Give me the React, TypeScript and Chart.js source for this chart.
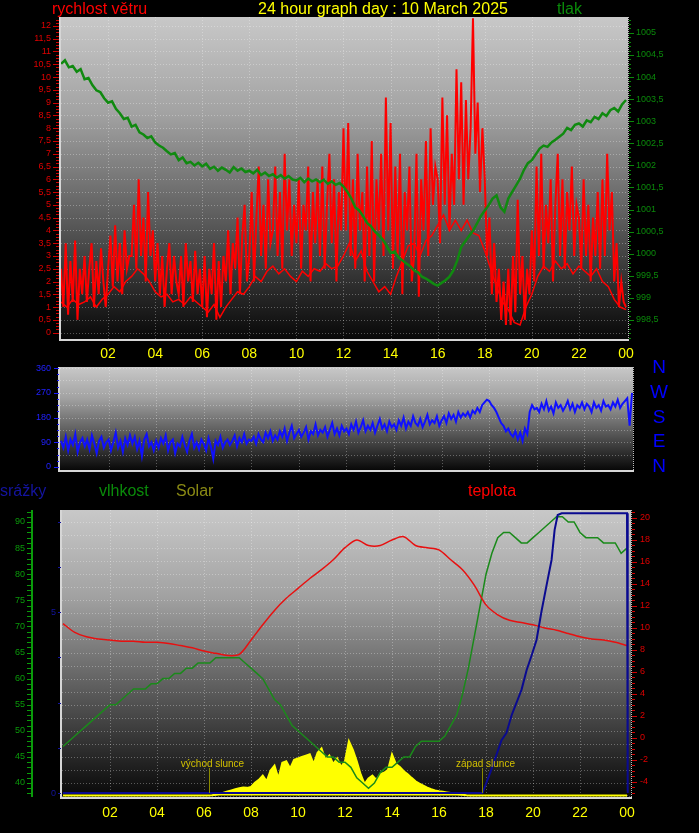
import React, { useEffect, useRef } from 'react';
import { Chart, registerables } from 'chart.js';
Chart.register(...registerables);

const FONT = 'Arial, "Liberation Sans", sans-serif';

// x-axis hour labels
const tickHours = [2, 4, 6, 8, 10, 12, 14, 16, 18, 20, 22, 24];
const tickLabels = ['02', '04', '06', '08', '10', '12', '14', '16', '18', '20', '22', '00'];

// wind gust, m/s, every 6 minutes
const windGust = [
  2.5, 1.0, 3.5, 0.7, 2.8, 1.2, 3.6, 0.5, 2.5, 1.5,
  3.0, 1.2, 2.5, 3.5, 1.0, 2.8, 1.5, 3.3, 2.0, 1.0,
  2.5, 3.8, 1.8, 4.2, 2.0, 3.5, 1.5, 4.0, 2.5, 3.0,
  3.0, 5.0, 2.5, 6.0, 3.0, 4.5, 2.0, 5.5, 3.0, 4.0,
  2.0, 3.5, 1.5, 3.0, 1.0, 2.5, 3.5, 1.5, 3.0, 2.0,
  1.5, 3.0, 1.0, 3.5, 2.0, 2.8, 1.2, 3.2, 1.5, 2.5,
  1.0, 3.0, 0.6, 2.5, 1.5, 3.5, 0.5, 2.8, 1.0, 3.0,
  2.0, 4.0, 1.5, 3.5, 2.5, 4.5, 1.5, 3.8, 5.0, 2.0,
  3.0, 5.5, 2.0, 4.5, 6.5, 3.0, 5.0, 2.5, 6.0, 3.5,
  4.0, 6.5, 3.0, 5.5, 2.5, 7.0, 4.0, 6.0, 3.0, 5.0,
  3.5, 6.0, 2.5, 5.0, 4.0, 6.5, 2.0, 5.5, 3.5, 6.0,
  3.0, 6.5, 2.5, 5.0, 7.0, 3.5, 6.0, 2.0, 5.5, 4.0,
  8.0, 4.0, 8.2, 3.0, 6.0, 2.5, 7.0, 4.0, 5.5, 2.0,
  6.5, 3.0, 7.5, 2.0, 6.0, 4.0, 7.0, 3.0, 9.2, 4.0,
  8.2, 2.5, 6.5, 3.0, 7.0, 1.5, 5.5, 4.0, 6.5, 2.0,
  3.0, 7.0, 1.4, 6.0, 4.0, 7.5, 3.0, 8.0, 5.0, 6.5,
  6.0, 3.5, 9.2, 5.0, 8.5, 4.0, 7.0, 5.0, 10.3, 6.0,
  9.8, 5.0, 9.1, 6.0, 8.0, 12.3, 7.0, 9.0, 5.5, 8.0,
  6.0, 3.0, 4.5, 1.5, 3.5, 1.2, 2.5, 0.5, 2.0, 0.3,
  2.5, 0.3, 3.0, 0.8, 5.2, 1.5, 3.0, 0.5, 2.5, 1.5,
  4.0, 2.0, 6.5, 3.0, 7.0, 2.5, 5.0, 3.5, 6.0, 2.0,
  5.0, 7.0, 3.0, 6.0, 2.5, 5.5, 4.0, 6.5, 3.0, 5.0,
  4.5, 2.5, 6.0, 3.0, 5.0, 2.0, 4.5, 3.0, 5.5, 2.5,
  6.0, 3.0, 7.0, 4.0, 5.5, 2.0, 3.5, 1.0, 2.0, 1.2,
  1.0,
];

// average wind speed, m/s, every 15 minutes
const windAvg = [
  1.2, 1.0, 1.3, 1.1, 1.2, 1.4, 1.0, 1.3, 1.5, 1.8, 1.6, 2.0,
  2.2, 2.5, 2.3, 2.0, 1.6, 1.4, 1.5, 1.2, 1.3, 1.1, 1.4, 1.2,
  1.0, 0.8, 1.1, 0.6, 1.0, 1.3, 1.6, 1.5, 1.8, 2.2, 2.0, 2.4,
  2.6, 2.3, 2.5, 2.2, 2.0, 2.4, 2.2, 2.5, 2.4, 2.7, 2.5, 2.6,
  3.0, 3.5, 2.8, 3.2, 2.4, 2.0, 1.6, 1.8, 1.5, 2.2, 2.8, 3.4,
  3.5, 3.0, 3.6, 3.8, 4.2, 4.6, 4.0, 4.4, 4.0, 4.4, 3.9, 3.8,
  3.2, 2.5, 1.8, 1.2, 0.9, 0.4, 0.3, 1.0, 1.5, 2.2, 2.6, 2.4,
  2.8, 2.5, 2.7, 2.3, 2.6, 2.4, 2.2, 2.5, 2.0, 1.8, 1.3, 1.0,
  0.9,
];

// pressure, hPa, every 10 minutes
const pressure = [
  1004.30, 1004.38, 1004.22, 1004.25, 1004.12, 1004.18,
  1003.95, 1003.98, 1003.82, 1003.70, 1003.66, 1003.52,
  1003.42, 1003.45, 1003.28, 1003.18, 1003.05, 1003.08,
  1002.88, 1002.92, 1002.75, 1002.70, 1002.62, 1002.66,
  1002.52, 1002.45, 1002.40, 1002.32, 1002.25, 1002.28,
  1002.12, 1002.18, 1002.05, 1002.08, 1002.00, 1002.06,
  1001.98, 1002.04, 1001.92, 1001.97, 1001.88, 1001.95,
  1001.90, 1001.84, 1001.96, 1001.88, 1001.93, 1001.85,
  1001.88, 1001.82, 1001.90, 1001.78, 1001.84, 1001.76,
  1001.80, 1001.72, 1001.78, 1001.70, 1001.76, 1001.68,
  1001.66, 1001.72, 1001.62, 1001.70, 1001.64, 1001.68,
  1001.62, 1001.68, 1001.58, 1001.64, 1001.56, 1001.60,
  1001.52, 1001.40, 1001.25, 1001.05, 1000.98, 1000.85,
  1000.70, 1000.62, 1000.50, 1000.42, 1000.32, 1000.18,
  1000.02, 1000.05, 999.92, 999.85, 999.78, 999.72,
  999.62, 999.58, 999.48, 999.44, 999.38, 999.32,
  999.28, 999.34, 999.40, 999.48, 999.62, 999.85,
  1000.15, 1000.28, 1000.40, 1000.52, 1000.68, 1000.85,
  1000.98, 1001.10, 1001.25, 1001.32, 1001.05, 1000.95,
  1001.25, 1001.40, 1001.55, 1001.70, 1001.90, 1002.05,
  1002.12, 1002.25, 1002.38, 1002.45, 1002.42, 1002.52,
  1002.58, 1002.65, 1002.72, 1002.85, 1002.80, 1002.92,
  1002.95, 1002.88, 1003.02, 1002.98, 1003.10, 1003.05,
  1003.18, 1003.12, 1003.25, 1003.30, 1003.22, 1003.38,
  1003.48,
];

// wind direction, degrees, every 6 minutes
const windDir = [
  95, 70, 110, 60, 100, 80, 120, 55, 90, 105,
  75, 100, 65, 115, 85, 50, 95, 110, 70, 90,
  100, 60, 90, 125, 70, 95, 55, 105, 80, 115,
  85, 110, 65, 95, 40, 100, 120, 75, 90, 60,
  95, 70, 105, 85, 115, 60, 90, 100, 50, 85,
  75, 110, 80, 55, 95, 120, 70, 90, 65, 100,
  85, 60, 105, 75, 30, 95, 80, 110, 70, 90,
  100, 80, 95, 115, 75, 105, 90, 120, 85, 100,
  95, 110, 85, 120, 100, 90, 125, 105, 130, 95,
  115, 100, 130, 110, 140, 95, 125, 150, 105, 120,
  135, 110, 125, 145, 100, 130, 120, 155, 115, 135,
  125, 145, 110, 135, 160, 120, 140, 115, 150, 130,
  140, 120, 155, 135, 165, 125, 145, 170, 130, 150,
  135, 160, 125, 150, 175, 140, 155, 130, 165, 145,
  155, 135, 170, 150, 180, 140, 165, 150, 185, 160,
  150, 175, 145, 165, 190, 155, 170, 160, 185, 150,
  170, 185, 160, 195, 175, 190, 165, 200, 180, 195,
  185, 200, 180, 205, 195, 215, 200, 225, 235, 245,
  240, 225, 215, 200, 180, 160, 150, 130, 140, 120,
  110, 130, 100, 125, 95, 140, 120, 200, 225, 210,
  215, 200, 230, 210, 240, 205, 220, 195, 235, 215,
  225, 205, 220, 240, 210, 230, 200, 225, 215, 235,
  210, 230, 220, 200, 235, 215, 225, 205, 240, 220,
  225, 210, 235, 220, 245, 215, 230, 240, 250, 150,
  270,
];

// temperature, °C, every 30 minutes
const temperature = [
  10.4, 9.6, 9.2, 9.0, 8.9, 8.8, 8.8, 8.7, 8.7, 8.6, 8.4, 8.2, 7.9, 7.7, 7.5, 7.6, 8.9,
  10.3, 11.6, 12.7, 13.6, 14.5, 15.3, 16.2, 17.3, 18.0, 17.5, 17.5, 18.0, 18.3, 17.5, 17.3, 17.1,
  16.2, 15.3, 13.9, 12.1, 11.2, 10.7, 10.5, 10.3, 10.0, 9.8, 9.5, 9.2, 9.0, 8.9, 8.7, 8.4,
];

// humidity, %, every 15 minutes
const humidity = [
  47, 48, 49, 50, 51, 52, 53, 54, 55, 55, 56, 57,
  58, 58, 58, 59, 59, 60, 60, 61, 61, 62, 62, 63,
  63, 63, 64, 64, 64, 64, 64, 63, 62, 61, 60, 58,
  56, 55, 53, 51, 50, 49, 48, 47, 46, 45, 45, 44,
  44, 43, 41, 40, 39, 40, 42, 43, 43, 44, 45, 45,
  47, 48, 48, 48, 48, 49, 51, 53, 57, 62, 68, 74,
  80, 84, 87, 88, 88, 87, 86, 86, 87, 88, 89, 90,
  91, 91, 90, 90, 88, 87, 87, 87, 86, 86, 86, 84,
  85,
];

// solar radiation, W/m², every 10 minutes
const solar = [
  0, 0, 0, 0, 0, 0, 0, 0, 0, 0, 0, 0, 0, 0, 0, 0, 0, 0,
  0, 0, 0, 0, 0, 0, 0, 0, 0, 0, 0, 0, 0, 0, 0, 0, 0, 0,
  0, 0, 1, 3, 6, 10,
  14, 18, 22, 26, 28, 27,
  30, 45, 55, 70, 50, 88,
  105, 60, 115, 120, 95, 125,
  130, 135, 140, 145, 110, 150,
  165, 125, 140, 110, 130, 100,
  120, 190, 160, 120, 74, 40,
  60, 70, 55, 75, 80, 90,
  144, 110, 100, 85, 75, 62,
  50, 42, 35, 28, 22, 18,
  15, 13, 11, 9, 7, 5,
  3, 1, 0, 0, 0, 0,
  0, 0, 0, 0, 0, 0, 0, 0, 0, 0, 0, 0, 0, 0, 0, 0, 0, 0,
  0, 0, 0, 0, 0, 0, 0, 0, 0, 0, 0, 0, 0, 0, 0, 0, 0, 0,
  0,
];

// precipitation total, mm
const precipHours = [0, 17.85, 18.2, 18.66, 18.87, 19.09, 19.51, 19.73, 19.94, 20.15, 20.37, 20.58, 20.79, 20.92, 21.05, 21.22, 24.0, 24.03];
const precipValues = [0, 0, 0.6, 1.46, 1.66, 2.15, 2.85, 3.4, 3.8, 4.23, 5.05, 5.75, 6.44, 7.27, 7.68, 7.73, 7.73, 0];

const sunriseHour = 6.22;
const sunsetHour = 17.85;

const series = (values: number[], step: number) => values.map((y, i) => ({ x: i * step, y }));

function fmt(v: number) {
  const r = Math.round(v * 10) / 10;
  return String(r).replace('.', ',');
}

function drawBg(chart: any) {
  const { ctx, chartArea: a } = chart;
  ctx.save();
  const g = ctx.createLinearGradient(0, a.top, 0, a.bottom);
  g.addColorStop(0, '#c8c8c8');
  g.addColorStop(0.3, '#a2a2a2');
  g.addColorStop(0.6, '#626262');
  g.addColorStop(1, '#080808');
  ctx.fillStyle = g;
  ctx.fillRect(a.left, a.top, a.right - a.left, a.bottom - a.top);
  ctx.restore();
}

function drawGrid(chart: any, scaleId: string, values: number[]) {
  const { ctx, chartArea: a } = chart;
  const ys = chart.scales[scaleId];
  const xs = chart.scales.x;
  ctx.save();
  ctx.strokeStyle = 'rgba(255,255,255,0.30)';
  ctx.lineWidth = 1;
  ctx.setLineDash([1, 2]);
  for (const v of values) {
    const y = Math.round(ys.getPixelForValue(v)) + 0.5;
    if (y < a.top || y > a.bottom) continue;
    ctx.beginPath();
    ctx.moveTo(a.left, y);
    ctx.lineTo(a.right, y);
    ctx.stroke();
  }
  for (const h of tickHours) {
    const x = Math.round(xs.getPixelForValue(h)) + 0.5;
    if (x > a.right - 2) continue;
    ctx.beginPath();
    ctx.moveTo(x, a.top);
    ctx.lineTo(x, a.bottom);
    ctx.stroke();
  }
  ctx.restore();
}

function drawFrame(chart: any) {
  const { ctx, chartArea: a } = chart;
  ctx.save();
  ctx.fillStyle = '#d6d6d6';
  ctx.fillRect(a.left - 2, a.top, 2, a.bottom - a.top + 2);
  ctx.fillRect(a.left - 2, a.bottom, a.right - a.left + 3, 2);
  ctx.strokeStyle = 'rgba(235,235,235,0.8)';
  ctx.setLineDash([1, 1]);
  ctx.beginPath();
  ctx.moveTo(a.right + 0.5, a.top);
  ctx.lineTo(a.right + 0.5, a.bottom);
  ctx.stroke();
  ctx.restore();
}

function text(ctx: any, s: string, x: number, y: number, color: string, size: number, align = 'left', baseline = 'alphabetic') {
  ctx.save();
  ctx.fillStyle = color;
  ctx.font = `${size}px ${FONT}`;
  ctx.textAlign = align;
  ctx.textBaseline = baseline;
  ctx.fillText(s, x, y);
  ctx.restore();
}

function tick(ctx: any, x1: number, x2: number, y: number, color: string) {
  const yy = Math.round(y) + 0.5;
  ctx.strokeStyle = color;
  ctx.beginPath();
  ctx.moveTo(x1, yy);
  ctx.lineTo(x2, yy);
  ctx.stroke();
}

function drawXLabels(chart: any, y: number, offset: number) {
  const xs = chart.scales.x;
  tickHours.forEach((h, i) => {
    text(chart.ctx, tickLabels[i], xs.getPixelForValue(h) + offset, y, '#ffff00', 14, 'center', 'middle');
  });
}

const panel1Plugin = {
  id: 'panel1',
  beforeDatasetsDraw(chart: any) {
    drawBg(chart);
    const g: number[] = [];
    for (let v = 0; v <= 12; v += 0.5) g.push(v);
    drawGrid(chart, 'yWind', g);
  },
  afterDraw(chart: any) {
    const ctx = chart.ctx;
    drawFrame(chart);
    const yW = chart.scales.yWind;
    const yP = chart.scales.yPress;
    ctx.save();
    ctx.lineWidth = 1;
    for (let k = 0; k <= 98; k++) {
      const v = k / 8;
      tick(ctx, k % 4 === 0 ? 53 : 56, 59, yW.getPixelForValue(v), '#d00000');
    }
    for (let k = 0; k <= 24; k++) {
      text(ctx, fmt(k / 2), 51, yW.getPixelForValue(k / 2), '#e00000', 9, 'right', 'middle');
    }
    for (let k = 9981; k <= 10053; k++) {
      const v = k / 10;
      tick(ctx, 629, k % 5 === 0 ? 634 : 631, yP.getPixelForValue(v), '#0a8a0a');
    }
    for (let k = 0; k <= 13; k++) {
      const v = 998.5 + k * 0.5;
      text(ctx, fmt(v), 636, yP.getPixelForValue(v), '#0a8a0a', 9, 'left', 'middle');
    }
    ctx.restore();
    drawXLabels(chart, 354, 0);
    // titles
    text(ctx, 'rychlost větru', 52, 14, '#ff0000', 16);
    text(ctx, '24 hour graph day : 10 March 2025', 258, 14, '#ffff00', 16);
    text(ctx, 'tlak', 557, 14, '#0a8a0a', 16);
    text(ctx, 'srážky', 0, 496, '#1414a0', 16);
    text(ctx, 'vlhkost', 99, 496, '#0a8a0a', 16);
    text(ctx, 'Solar', 176, 496, '#8a8a14', 16);
    text(ctx, 'teplota', 468, 496, '#ff0000', 16);
  },
};

const panel2Plugin = {
  id: 'panel2',
  beforeDatasetsDraw(chart: any) {
    drawBg(chart);
    drawGrid(chart, 'yDir', [45, 90, 135, 180, 225, 270, 315, 360]);
  },
  afterDraw(chart: any) {
    const ctx = chart.ctx;
    drawFrame(chart);
    const yD = chart.scales.yDir;
    ctx.save();
    ctx.lineWidth = 1;
    for (let k = 0; k <= 16; k++) {
      const v = k * 22.5;
      tick(ctx, k % 4 === 0 ? 54 : 57, 59, yD.getPixelForValue(v), '#1a1aff');
    }
    ctx.restore();
    [0, 90, 180, 270, 360].forEach((v) => {
      text(ctx, String(v), 51, yD.getPixelForValue(v), '#2020ff', 9, 'right', 'middle');
    });
    const dirs = ['N', 'E', 'S', 'W', 'N'];
    [0, 90, 180, 270, 360].forEach((v, i) => {
      text(ctx, dirs[i], 659, yD.getPixelForValue(v), '#0000ff', 19, 'center', 'middle');
    });
  },
};

const panel3Plugin = {
  id: 'panel3',
  beforeDatasetsDraw(chart: any) {
    drawBg(chart);
    const g: number[] = [];
    for (let v = 37.5; v <= 92.5; v += 2.5) g.push(v);
    drawGrid(chart, 'yHum', g);
  },
  afterDraw(chart: any) {
    const ctx = chart.ctx;
    const a = chart.chartArea;
    drawFrame(chart);
    const yH = chart.scales.yHum;
    const yT = chart.scales.yTemp;
    const yR = chart.scales.yPrec;
    const xs = chart.scales.x;
    ctx.save();
    ctx.lineWidth = 1;
    // humidity axis
    ctx.fillStyle = '#0a9a0a';
    ctx.fillRect(31, a.top, 2, a.bottom - a.top);
    for (let v = 38; v <= 92; v++) {
      tick(ctx, 27, 31, yH.getPixelForValue(v), '#0a9a0a');
    }
    for (let v = 40; v <= 90; v += 5) {
      text(ctx, String(v), 25, yH.getPixelForValue(v), '#0a9a0a', 9, 'right', 'middle');
    }
    // precipitation axis
    for (let k = 0; k <= 6; k++) {
      tick(ctx, 58, 61, yR.getPixelForValue(k * 1.25), '#1414a0');
    }
    text(ctx, '5', 56, yR.getPixelForValue(5), '#1414a0', 9, 'right', 'middle');
    text(ctx, '0', 56, yR.getPixelForValue(0), '#1414a0', 9, 'right', 'middle');
    // temperature axis
    for (let k = -10; k <= 41; k++) {
      const v = k / 2;
      tick(ctx, 632, k % 4 === 0 ? 637 : 635, yT.getPixelForValue(v), '#d00000');
    }
    for (let v = -4; v <= 20; v += 2) {
      text(ctx, String(v), 640, yT.getPixelForValue(v), '#e00000', 9, 'left', 'middle');
    }
    // sunrise / sunset
    const yBase = yR.getPixelForValue(0);
    [sunriseHour, sunsetHour].forEach((h, i) => {
      const x = Math.round(xs.getPixelForValue(h)) + 0.5;
      ctx.strokeStyle = '#8a8a00';
      ctx.beginPath();
      ctx.moveTo(x, 768);
      ctx.lineTo(x, yBase);
      ctx.stroke();
      text(ctx, i === 0 ? 'východ slunce' : 'západ slunce', x + 3, 767, '#d2c000', 10, 'center');
    });
    ctx.restore();
    drawXLabels(chart, 813, 0);
  },
};

const baseOptions = (padding: any, x: any, scales: any) => ({
  responsive: false,
  animation: false as const,
  events: [] as any[],
  layout: { padding },
  plugins: { legend: { display: false }, tooltip: { enabled: false } },
  elements: { point: { radius: 0 }, line: { tension: 0 } },
  scales: { x: { type: 'linear', display: false, ...x }, ...scales },
});

export default function App() {
  const c1 = useRef<HTMLCanvasElement>(null);
  const c2 = useRef<HTMLCanvasElement>(null);
  const c3 = useRef<HTMLCanvasElement>(null);

  useEffect(() => {
    const ch1 = new Chart(c1.current as HTMLCanvasElement, {
      type: 'line',
      data: {
        datasets: [
          { data: series(windGust, 0.1), borderColor: '#ff0000', borderWidth: 2, yAxisID: 'yWind', order: 3 },
          { data: series(windAvg, 0.25), borderColor: '#ff0000', borderWidth: 1.5, yAxisID: 'yWind', order: 2 },
          { data: series(pressure, 1 / 6), borderColor: '#108a10', borderWidth: 2.5, yAxisID: 'yPress', order: 1 },
        ],
      },
      options: baseOptions(
        { left: 61, top: 17, right: 699 - 628, bottom: 833 - 339 },
        { min: 0, max: 24.085 },
        {
          yWind: { type: 'linear', display: false, min: -0.25, max: 12.35 },
          yPress: { type: 'linear', display: false, min: 998.07, max: 1005.36 },
        }
      ) as any,
      plugins: [panel1Plugin],
    });

    const ch2 = new Chart(c2.current as HTMLCanvasElement, {
      type: 'line',
      data: {
        datasets: [
          { data: series(windDir, 0.1), borderColor: '#1010ff', borderWidth: 2, yAxisID: 'yDir' },
        ],
      },
      options: baseOptions(
        { left: 60, top: 367, right: 699 - 633, bottom: 833 - 470 },
        { min: -0.042, max: 24.042 },
        { yDir: { type: 'linear', display: false, min: -11, max: 364 } }
      ) as any,
      plugins: [panel2Plugin],
    });

    const ch3 = new Chart(c3.current as HTMLCanvasElement, {
      type: 'line',
      data: {
        datasets: [
          {
            data: series(solar, 1 / 6), borderColor: '#ffff00', backgroundColor: '#ffff00',
            borderWidth: 2, fill: 'origin', yAxisID: 'ySolar', order: 4,
          },
          { data: series(humidity, 0.25), borderColor: '#1a8a1a', borderWidth: 1.5, yAxisID: 'yHum', order: 3 },
          { data: series(temperature, 0.5), borderColor: '#e81010', borderWidth: 1.5, tension: 0.3, yAxisID: 'yTemp', order: 2 },
          {
            data: precipHours.map((h, i) => ({ x: h, y: precipValues[i] })),
            borderColor: '#0a0a90', borderWidth: 2, yAxisID: 'yPrec', order: 1,
          },
        ],
      },
      options: baseOptions(
        { left: 62, top: 510, right: 699 - 631, bottom: 833 - 797 },
        { min: -0.043, max: 24.17 },
        {
          yTemp: { type: 'linear', display: false, min: -5.364, max: 20.727 },
          yHum: { type: 'linear', display: false, min: 37.32, max: 92.3 },
          yPrec: { type: 'linear', display: false, min: -0.11, max: 7.82 },
          ySolar: { type: 'linear', display: false, min: -5, max: 1000 },
        }
      ) as any,
      plugins: [panel3Plugin],
    });

    return () => {
      ch1.destroy();
      ch2.destroy();
      ch3.destroy();
    };
  }, []);

  const cs: React.CSSProperties = { position: 'absolute', left: 0, top: 0, width: 699, height: 833 };
  return (
    <div style={{ position: 'fixed', left: 0, top: 0, width: 699, height: 833, background: '#000', overflow: 'hidden' }}>
      <canvas ref={c1} width={699} height={833} style={cs} />
      <canvas ref={c2} width={699} height={833} style={cs} />
      <canvas ref={c3} width={699} height={833} style={cs} />
    </div>
  );
}
